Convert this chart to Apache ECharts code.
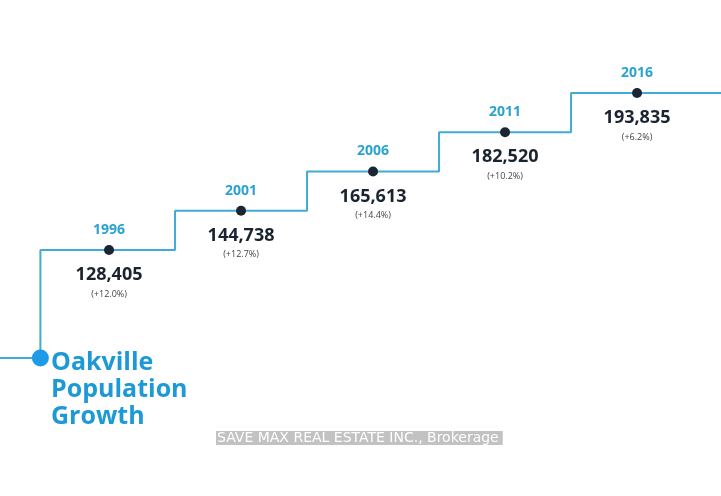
<!DOCTYPE html>
<html>
<head>
    <meta charset="utf-8">
    <style>
        html, body { margin: 0; padding: 0; background: #fff; }
        #main { width: 721px; height: 496px; }
    </style>
    <script src="https://cdn.jsdelivr.net/npm/echarts@6/dist/echarts.min.js"></script>
</head>
<body>
    <div id="main"></div>
    <script type="text/javascript">
        // census years and population
        var years = [1996, 2001, 2006, 2011, 2016];
        var population = [128405, 144738, 165613, 182520, 193835];
        var growth = ['+12.0%', '+12.7%', '+14.4%', '+10.2%', '+6.2%'];
        // each census is one step up the staircase
        var levels = [0, 1, 2, 3, 4];
        // where the staircase starts (big blue dot) and the level it starts from
        var startYear = 1993.4;
        var baseLevel = -2.75;

        var myChart = echarts.init(document.getElementById('main'));

        var stepData = [[2 * startYear - years[0], baseLevel]];
        var dots = [];
        for (var i = 0; i < years.length; i++) {
            stepData.push([years[i], levels[i]]);
            dots.push({ value: [years[i], levels[i]], name: String(years[i]), pop: population[i], pct: growth[i] });
        }
        stepData.push([years[years.length - 1] + 5, levels[levels.length - 1]]);

        var option = {
            backgroundColor: '#fff',
            animation: false,
            grid: { left: 0, right: 0, top: 0, bottom: 0 },
            xAxis: { type: 'value', min: 1991.87, max: 2019.18, show: false },
            yAxis: { type: 'value', min: -6.268, max: 6.369, show: false },
            title: {
                text: 'Oakville\nPopulation\nGrowth',
                left: 51,
                top: 349,
                padding: 0,
                textStyle: {
                    fontFamily: 'Open Sans',
                    fontWeight: 'bold',
                    fontSize: 25,
                    lineHeight: 27,
                    color: '#1d9ad6'
                }
            },
            graphic: [{
                type: 'text',
                left: 216,
                top: 431,
                style: {
                    text: 'SAVE MAX REAL ESTATE INC., Brokerage',
                    fontFamily: 'DejaVu Sans',
                    fontSize: 14,
                    fill: '#fff',
                    backgroundColor: '#c2c2c2',
                    padding: [0, 4, 0, 1]
                }
            }],
            series: [
                {
                    type: 'line',
                    step: 'middle',
                    data: stepData,
                    symbol: 'none',
                    lineStyle: { color: '#41abd6', width: 2 },
                    z: 1
                },
                {
                    type: 'scatter',
                    data: [[startYear, baseLevel]],
                    symbolSize: 17,
                    itemStyle: { color: '#1e9be6', opacity: 1 },
                    z: 3
                },
                {
                    type: 'scatter',
                    data: dots,
                    symbolSize: 10,
                    itemStyle: { color: '#1c2633', opacity: 1 },
                    label: {
                        show: true,
                        position: 'top',
                        distance: 8,
                        formatter: '{b}',
                        fontFamily: 'Open Sans',
                        fontWeight: 'bold',
                        fontSize: 14,
                        color: '#2ba3cf'
                    },
                    z: 3
                },
                {
                    type: 'scatter',
                    data: dots,
                    symbolSize: 0,
                    silent: true,
                    itemStyle: { opacity: 1 },
                    label: {
                        show: true,
                        position: 'bottom',
                        distance: 13,
                        formatter: function (p) {
                            return '{v|' + p.data.pop.toLocaleString('en-US') + '}\n{p|(' + p.data.pct + ')}';
                        },
                        rich: {
                            v: {
                                fontFamily: 'Open Sans',
                                fontWeight: 'bold',
                                fontSize: 18,
                                lineHeight: 24,
                                color: '#1a2430'
                            },
                            p: {
                                fontFamily: 'Open Sans',
                                fontSize: 9,
                                lineHeight: 14,
                                color: '#444444'
                            }
                        }
                    },
                    z: 2
                }
            ]
        };

        myChart.setOption(option);
    </script>
</body>
</html>
